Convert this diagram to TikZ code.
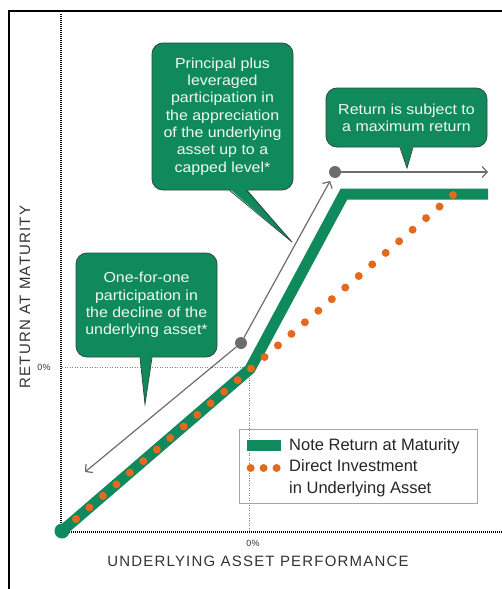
\documentclass[tikz,border=0pt]{standalone}
\usepackage{fontspec}
\setmainfont{Liberation Sans}
\newfontfamily\calloutfont[FakeStretch=1.1]{Liberation Sans}
\newfontfamily\axisfont[LetterSpace=8]{Liberation Sans}
\usetikzlibrary{arrows.meta, positioning, calc}
\definecolor{notegreen}{HTML}{10895C}
\definecolor{calloutedge}{HTML}{2E4A3E}
\definecolor{dotorange}{HTML}{E2691E}
\definecolor{guidegrey}{HTML}{6B6C6E}
\definecolor{labeltext}{HTML}{333333}

\begin{document}
\begin{tikzpicture}[x=1pt, y=-1pt,
    callout/.style={draw=calloutedge, line width=0.8pt, fill=notegreen,
        rounded corners=11pt, text=white!94!notegreen, align=center, inner sep=0pt,
        font=\calloutfont\fontsize{14.5}{17.3}\selectfont},
    pointeredge/.style={draw=calloutedge, line width=0.8pt},
    greydot/.style={circle, fill=guidegrey, minimum size=12pt, inner sep=0pt},
    guidearrow/.style={draw=guidegrey, line width=1.2pt,
        -{Straight Barb[length=5pt, width=11pt]}},
    axisline/.style={line width=1.1pt, dash pattern=on 1pt off 1pt},
    zeroline/.style={draw=gray, line width=0.8pt, dash pattern=on 1pt off 1.5pt},
    axislabel/.style={text=labeltext, font=\axisfont\fontsize{15}{17}\selectfont},
    zerolabel/.style={text=labeltext, font=\fontsize{9}{10}\selectfont},
    legendtext/.style={anchor=west, inner sep=0pt, text=black!85, align=left,
        font=\fontsize{16.5}{22}\selectfont}]
    \useasboundingbox (0,0) rectangle (502,589);
    \draw[line width=2.2pt] (502,11) -- (9,11) -- (9,589);

    % axes and zero guides
    \coordinate (origin) at (61,532);
    \draw[axisline] (61,14) -- (origin) -- (502,532);
    \draw[zeroline] (62,367) -- (249,367) -- (249,531);
    \node[zerolabel] (yzero) at (44,367) {0\%};
    \node[zerolabel] (xzero) at (253,543) {0\%};
    \node[axislabel, rotate=90] (ylabel) at (25,297) {RETURN AT MATURITY};
    \node[axislabel] (xlabel) at (258,561) {UNDERLYING ASSET PERFORMANCE};

    % note return and direct investment
    \coordinate (start) at (62,531);
    \coordinate (kink) at (250,369);
    \coordinate (capL) at (344,194);
    \coordinate (capR) at (488,194);
    \draw[notegreen, line width=11pt, line join=miter] (start) -- (kink) -- (capL) -- (capR);
    \fill[notegreen] (start) circle (7.5);
    \coordinate (dotA) at (76,519);
    \coordinate (dotB) at (453,195);
    \foreach \k in {0,...,28}
        \fill[dotorange] ($(dotA)!\k/28!(dotB)$) circle (4);

    % grey guide arrows
    \node[greydot] (lowdot) at (241,343) {};
    \node[greydot] (updot) at (335,172) {};
    \coordinate (downtip) at (85,472);
    \coordinate (righttip) at (488,172);
    \draw[guidearrow] (lowdot) -- (downtip);
    \draw[guidearrow, shorten >=4pt] (lowdot) -- (updot);
    \draw[guidearrow] (updot) -- (righttip);

    % callouts
    \node[callout, minimum width=141pt, minimum height=147pt] (capbox) at (222.5,116.5)
        {Principal plus\\leveraged\\participation in\\the appreciation\\of the underlying\\asset up to a\\capped level*};
    \node[callout, minimum width=161pt, minimum height=59pt] (maxbox) at (406.5,117.5)
        {Return is subject to\\a maximum return};
    \node[callout, minimum width=141pt, minimum height=104pt] (declbox) at (146.5,305)
        {One-for-one\\participation in\\the decline of the\\underlying asset*};
    \coordinate (captip) at (292,242);
    \coordinate (maxtip) at (407,168);
    \coordinate (decltip) at (145,404);
    \fill[notegreen] ($(capbox.south)+(7,-1.5)$) -- (captip) -- ($(capbox.south)+(24,-1.5)$) -- cycle;
    \draw[pointeredge] ($(capbox.south)+(7,0)$) -- (captip) -- ($(capbox.south)+(24,0)$);
    \fill[notegreen] ($(maxbox.south)+(-6.5,-1.5)$) -- (maxtip) -- ($(maxbox.south)+(6.5,-1.5)$) -- cycle;
    \draw[pointeredge] ($(maxbox.south)+(-6.5,0)$) -- (maxtip) -- ($(maxbox.south)+(6.5,0)$);
    \fill[notegreen] ($(declbox.south)+(-6.5,-1.5)$) -- (decltip) -- ($(declbox.south)+(5.5,-1.5)$) -- cycle;
    \draw[pointeredge] ($(declbox.south)+(-6.5,0)$) -- (decltip) -- ($(declbox.south)+(5.5,0)$);

    % legend
    \node[draw=gray!70, line width=0.8pt, minimum width=238pt, minimum height=74pt,
          inner sep=0pt] (legend) at (358,466) {};
    \fill[notegreen] ($(legend.north west)+(8,11)$) rectangle +(34,11);
    \foreach \dx in {12,25,38}
        \fill[dotorange] ($(legend.west)+(\dx,2)$) circle (4);
    \node[legendtext] (legnote) at (289,446) {Note Return at Maturity};
    \node[legendtext] (leginv) at (289,478) {Direct Investment\\in Underlying Asset};
\end{tikzpicture}
\end{document}
